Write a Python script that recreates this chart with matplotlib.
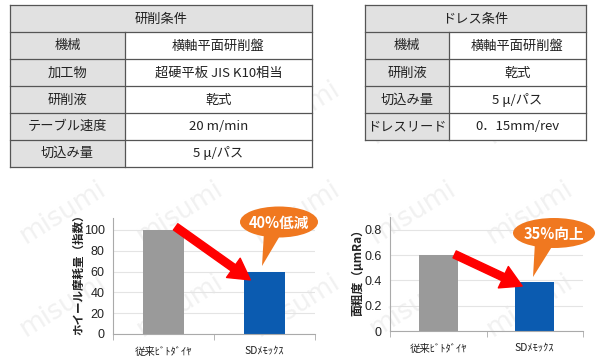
import matplotlib
matplotlib.use("Agg")
import matplotlib.pyplot as plt
from matplotlib.patches import Rectangle, Ellipse, Polygon, FancyArrowPatch

plt.rcParams['font.family'] = ['Noto Sans CJK JP', 'DejaVu Sans']

# ---------------- data ----------------
grind_title = "研削条件"
grind_keys = ["機械", "加工物", "研削液", "テーブル速度", "切込み量"]
grind_vals = ["横軸平面研削盤", "超硬平板 JIS K10相当", "乾式", "20 m/min", "5 μ/パス"]

dress_title = "ドレス条件"
dress_keys = ["機械", "研削液", "切込み量", "ドレスリード"]
dress_vals = ["横軸平面研削盤", "乾式", "5 μ/パス", "0．15mm/rev"]

categories = ["従来ﾋﾞﾄﾀﾞｲﾔ", "SDﾒﾓｯｸｽ"]
wear_values = [100, 60]
rough_values = [0.60, 0.39]
wear_ticks = [0, 20, 40, 60, 80, 100]
wear_ticklabels = ["0", "20", "40", "60", "80", "100"]
rough_ticks = [0, 0.2, 0.4, 0.6, 0.8]
rough_ticklabels = ["0", "0.2", "0.4", "0.6", "0.8"]
wear_label = "ホイール摩耗量（指数）"
rough_label = "面粗度（μmRa）"
wear_note = "40%低減"
rough_note = "35%向上"

bar_colors = ["#9a9a9a", "#0b5bb0"]
orange = "#f07820"
W, H = 600, 359

fig = plt.figure(figsize=(W / 100, H / 100), dpi=100)
fig.patch.set_facecolor("white")

# background axes in pixel coordinates
bg = fig.add_axes([0, 0, 1, 1], zorder=0)
bg.set_xlim(0, W)
bg.set_ylim(H, 0)
bg.axis("off")

# faint watermark
for row_y in [112, 212, 305]:
    for col_x in [63, 180, 297, 413, 530]:
        bg.text(col_x, row_y, "misumi", fontsize=19, color="#f1f1f1",
                rotation=32, ha="center", va="center",
                family=["DejaVu Sans"], zorder=0)

line_c = "#555555"
hdr_c = "#e1e1e1"


def draw_table(x0, x1, xdiv, ys, title, keys, vals):
    bg.add_patch(Rectangle((x0, ys[0]), x1 - x0, ys[1] - ys[0],
                           facecolor=hdr_c, edgecolor="none", zorder=1))
    bg.text((x0 + x1) / 2, (ys[0] + ys[1]) / 2 + 0.5, title, fontsize=9.5,
            ha="center", va="center", color="#222222", zorder=3)
    for i, (k, v) in enumerate(zip(keys, vals)):
        ya, yb = ys[i + 1], ys[i + 2]
        bg.add_patch(Rectangle((x0, ya), xdiv - x0, yb - ya,
                               facecolor=hdr_c, edgecolor="none", zorder=1))
        bg.add_patch(Rectangle((xdiv, ya), x1 - xdiv, yb - ya,
                               facecolor="white", edgecolor="none", zorder=1))
        bg.text((x0 + xdiv) / 2, (ya + yb) / 2 + 0.5, k, fontsize=9.5,
                ha="center", va="center", color="#222222", zorder=3)
        bg.text((xdiv + x1) / 2, (ya + yb) / 2 + 0.5, v, fontsize=9.5,
                ha="center", va="center", color="#222222", zorder=3)
    for y in ys:
        bg.plot([x0, x1], [y, y], color=line_c, lw=0.9, zorder=2)
    bg.plot([x0, x0], [ys[0], ys[-1]], color=line_c, lw=0.9, zorder=2)
    bg.plot([x1, x1], [ys[0], ys[-1]], color=line_c, lw=0.9, zorder=2)
    bg.plot([xdiv, xdiv], [ys[1], ys[-1]], color=line_c, lw=0.9, zorder=2)


draw_table(10, 312, 125, [5, 32, 59, 86, 113, 139.5, 166.5],
           grind_title, grind_keys, grind_vals)
draw_table(365, 586, 449, [5, 32, 59, 86, 113, 139.5],
           dress_title, dress_keys, dress_vals)


def make_chart(rect_px, values, ticks, ticklabels, ymax, ylabel,
               label_x_px, label_y_px, label_size):
    l, t, r, b = rect_px
    ax = fig.add_axes([l / W, (H - b) / H, (r - l) / W, (b - t) / H], zorder=1)
    ax.patch.set_alpha(0)
    x = list(range(len(categories)))
    ax.bar(x, values, width=0.4, color=bar_colors, zorder=2)
    ax.set_xlim(-0.5, len(categories) - 0.5)
    ax.set_ylim(0, ymax)
    ax.set_yticks(ticks)
    ax.set_yticklabels(ticklabels, family=["Liberation Sans"], fontsize=9,
                       color="#222222")
    ax.tick_params(axis="y", length=0, pad=6)
    ax.set_xticks(x)
    ax.set_xticklabels(categories, fontsize=7.5, color="#222222")
    ax.tick_params(axis="x", length=0, pad=9)
    ax.set_xticks([-0.5, 0.5, 1.5], minor=True)
    ax.tick_params(axis="x", which="minor", length=4, color="#aaaaaa",
                   direction="out")
    ax.grid(axis="y", color="#e4e4e4", lw=0.8, zorder=0)
    for s in ["top", "right"]:
        ax.spines[s].set_visible(False)
    for s in ["left", "bottom"]:
        ax.spines[s].set_color("#aaaaaa")
        ax.spines[s].set_linewidth(0.8)
    fig.text(label_x_px / W, 1 - label_y_px / H, ylabel, rotation=90,
             ha="center", va="center", fontsize=label_size, fontweight="bold",
             color="#222222")
    return ax


ax1 = make_chart((113, 218, 315, 334), wear_values, wear_ticks,
                 wear_ticklabels, 111.5, wear_label, 79, 272, 8.3)
ax2 = make_chart((390, 217, 583, 331), rough_values, rough_ticks,
                 rough_ticklabels, 0.9, rough_label, 358, 270, 8.5)

arrow_style = "simple,head_length=15,head_width=17,tail_width=5.5"
ax1.add_patch(FancyArrowPatch((0.12, 103), (0.86, 52), transform=ax1.transData,
                              arrowstyle=arrow_style, mutation_scale=1,
                              shrinkA=0, shrinkB=0, color="#ff0000",
                              zorder=5, clip_on=False))
ax2.add_patch(FancyArrowPatch((0.17, 0.605), (0.87, 0.355),
                              transform=ax2.transData,
                              arrowstyle=arrow_style, mutation_scale=1,
                              shrinkA=0, shrinkB=0, color="#ff0000",
                              zorder=5, clip_on=False))

# overlay for callouts
ov = fig.add_axes([0, 0, 1, 1], zorder=3)
ov.set_xlim(0, W)
ov.set_ylim(H, 0)
ov.axis("off")
ov.patch.set_alpha(0)


def callout(cx, cy, w, h, base, tip, text):
    ov.add_patch(Polygon([base[0], base[1], tip], closed=True,
                         facecolor=orange, edgecolor="none", zorder=4))
    ov.add_patch(Ellipse((cx, cy), w, h, facecolor=orange, edgecolor="none",
                         zorder=5))
    ov.text(cx, cy + 0.5, text, ha="center", va="center", color="white",
            fontsize=10.5, fontweight="bold", zorder=6)


callout(279, 222, 78, 31, ((264, 232), (281, 234)), (262, 266), wear_note)
callout(554, 233, 82, 30, ((535, 242), (553, 245)), (533, 277), rough_note)

fig.savefig("out.png", dpi=100, facecolor="white")
